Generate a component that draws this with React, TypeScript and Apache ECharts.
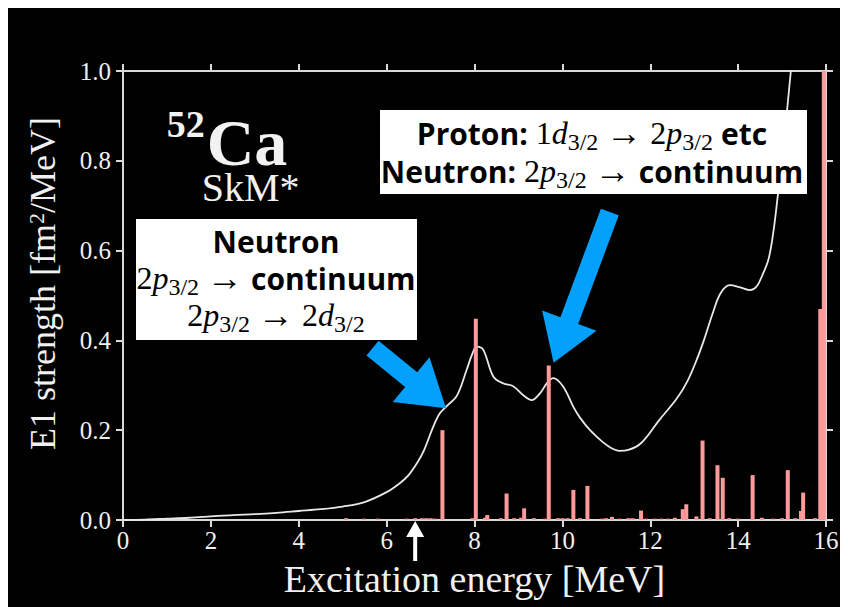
import React, { useEffect, useRef } from "react";
import * as echarts from "echarts";

// Continuous (smeared) E1 strength curve
const curveEnergy = [
  0, 0.5, 1, 1.5, 2, 2.5, 3, 3.5, 4, 4.5, 5, 5.5, 6, 6.3, 6.5, 6.7, 6.85, 7.05, 7.2, 7.35,
  7.6, 7.82, 7.95, 8.05, 8.2, 8.43, 8.66, 8.88, 9.11, 9.3, 9.49, 9.65, 9.79, 10.02, 10.25,
  10.4, 10.63, 10.9, 11.1, 11.3, 11.5, 11.8, 12.2, 12.6, 12.85, 13.05, 13.22, 13.42, 13.6,
  13.81, 14.05, 14.27, 14.42, 14.55, 14.69, 14.8, 14.9, 15.05, 15.2, 15.35,
];
const curveStrength = [
  0, 0.001, 0.003, 0.005, 0.008, 0.011, 0.013, 0.016, 0.02, 0.024, 0.03, 0.04, 0.062, 0.082,
  0.1, 0.128, 0.155, 0.205, 0.236, 0.252, 0.277, 0.334, 0.37, 0.386, 0.379, 0.319, 0.304,
  0.298, 0.278, 0.267, 0.282, 0.305, 0.316, 0.297, 0.252, 0.228, 0.2, 0.175, 0.161, 0.154,
  0.156, 0.172, 0.222, 0.27, 0.31, 0.355, 0.4, 0.46, 0.505, 0.523, 0.518, 0.512, 0.52, 0.545,
  0.58, 0.64, 0.72, 0.85, 1.0, 1.15,
];

// Discrete RPA transition strengths
const lineEnergy = [
  5.08, 5.48, 5.8, 6.46, 6.65, 6.8, 6.9, 7.0, 7.1, 7.27, 7.95, 8.03, 8.24, 8.29, 8.6, 8.73,
  8.9, 9.06, 9.13, 9.35, 9.6, 9.69, 9.9, 10.0, 10.12, 10.25, 10.4, 10.57, 10.9, 11.0, 11.13,
  11.3, 11.5, 11.6, 11.79, 11.9, 12.1, 12.25, 12.4, 12.56, 12.74, 12.82, 13.05, 13.19, 13.35,
  13.53, 13.65, 13.8, 14.0, 14.33, 14.54, 14.8, 15.0, 15.13, 15.3, 15.43, 15.48, 15.75, 15.87,
  15.95,
];
const lineStrength = [
  0.004, 0.003, 0.003, 0.003, 0.004, 0.004, 0.004, 0.004, 0.003, 0.2, 0.004, 0.448, 0.005,
  0.011, 0.004, 0.059, 0.004, 0.005, 0.026, 0.004, 0.003, 0.344, 0.004, 0.004, 0.004, 0.067,
  0.004, 0.076, 0.003, 0.004, 0.007, 0.003, 0.004, 0.004, 0.021, 0.003, 0.003, 0.003, 0.003,
  0.005, 0.024, 0.035, 0.008, 0.177, 0.004, 0.122, 0.094, 0.004, 0.003, 0.1, 0.005, 0.003,
  0.004, 0.111, 0.004, 0.02, 0.061, 0.004, 0.47, 1.0,
];

const thresholdEnergy = 6.65;

export default function App() {
  const ref = useRef<HTMLDivElement>(null);

  useEffect(() => {
    document.documentElement.style.overflow = "hidden";
    document.body.style.overflow = "hidden";
    const chart = echarts.init(ref.current!, null, { renderer: "svg" });
    const serif = "Liberation Serif, Times New Roman, serif";
    const sans = "Open Sans, Noto Sans, sans-serif";
    const axisColor = "#d9d9d9";
    const labelColor = "#f0f0f0";

    const axisLine = { show: true, onZero: false, lineStyle: { color: axisColor, width: 2 } };
    const axisTick = { show: true, length: 7, lineStyle: { color: axisColor, width: 2 } };

    chart.setOption({
      animation: false,
      backgroundColor: "#000",
      grid: { left: 115, right: 22, top: 63, bottom: 87, containLabel: false },
      xAxis: [
        {
          type: "value",
          min: 0,
          max: 16,
          interval: 2,
          position: "bottom",
          axisLine,
          axisTick,
          splitLine: { show: false },
          axisLabel: { color: labelColor, fontFamily: serif, fontSize: 25, margin: 8 },
          name: "Excitation energy [MeV]",
          nameLocation: "middle",
          nameGap: 40,
          nameTextStyle: { color: labelColor, fontFamily: serif, fontSize: 38 },
        },
        {
          type: "value",
          min: 0,
          max: 16,
          interval: 2,
          position: "top",
          axisLine,
          axisTick,
          splitLine: { show: false },
          axisLabel: { show: false },
        },
      ],
      yAxis: [
        {
          type: "value",
          min: 0,
          max: 1,
          interval: 0.2,
          position: "left",
          axisLine,
          axisTick,
          splitLine: { show: false },
          axisLabel: {
            color: labelColor,
            fontFamily: serif,
            fontSize: 25,
            margin: 12,
            formatter: (v: number) => v.toFixed(1),
          },
          name: "E1 strength [fm{sup|2}/MeV]",
          nameLocation: "middle",
          nameGap: 62,
          nameTextStyle: {
            color: labelColor,
            fontFamily: serif,
            fontSize: 36,
            padding: [0, 0, 0, 24],
            rich: {
              sup: {
                color: labelColor,
                fontFamily: serif,
                fontSize: 22,
                verticalAlign: "top",
                lineHeight: 22,
              },
            },
          },
        },
        {
          type: "value",
          min: 0,
          max: 1,
          interval: 0.2,
          position: "right",
          axisLine,
          axisTick,
          splitLine: { show: false },
          axisLabel: { show: false },
        },
      ],
      series: [
        {
          type: "line",
          data: curveEnergy.map((x, i) => [x, curveStrength[i]]),
          showSymbol: false,
          symbol: "none",
          smooth: 0.35,
          clip: true,
          lineStyle: { color: "#e8e8e8", width: 1.8 },
          z: 2,
        },
        {
          type: "bar",
          data: lineEnergy.map((x, i) => [x, lineStrength[i]]),
          barWidth: 4,
          clip: true,
          itemStyle: { color: "#ff9a9a" },
          z: 3,
        },
      ],
    });

    const toPx = (p: number[]) =>
      chart.convertToPixel({ xAxisIndex: 0, yAxisIndex: 0 }, p) as number[];

    const blue = "#03a1fc";
    const arrowPoly = (tailD: number[], tipD: number[]) => {
      const t = toPx(tailD);
      const p = toPx(tipD);
      const dx = p[0] - t[0];
      const dy = p[1] - t[1];
      const len = Math.hypot(dx, dy);
      const ux = dx / len;
      const uy = dy / len;
      const nx = -uy;
      const ny = ux;
      const sw = 19 / 2;
      const hw = 58 / 2;
      const hl = 45;
      const bx = p[0] - ux * hl;
      const by = p[1] - uy * hl;
      return {
        type: "polygon",
        z: 20,
        shape: {
          points: [
            [t[0] + nx * sw, t[1] + ny * sw],
            [bx + nx * sw, by + ny * sw],
            [bx + nx * hw, by + ny * hw],
            [p[0], p[1]],
            [bx - nx * hw, by - ny * hw],
            [bx - nx * sw, by - ny * sw],
            [t[0] - nx * sw, t[1] - ny * sw],
          ],
        },
        style: { fill: blue },
      };
    };

    const th = toPx([thresholdEnergy, 0]);
    const tipY = th[1] + 1;
    const whiteArrow = [
      {
        type: "polygon",
        z: 20,
        shape: {
          points: [
            [th[0], tipY],
            [th[0] + 9, tipY + 16],
            [th[0] - 9, tipY + 16],
          ],
        },
        style: { fill: "#ffffff" },
      },
      {
        type: "rect",
        z: 20,
        shape: { x: th[0] - 2, y: tipY + 14, width: 4, height: 26 },
        style: { fill: "#ffffff" },
      },
    ];

    const rich = {
      s: { fontFamily: sans, fontWeight: "bold", fontSize: 30, lineHeight: 32, fill: "#000", color: "#000" },
      n: { fontFamily: serif, fontSize: 32, lineHeight: 32, fill: "#000", color: "#000" },
      i: { fontFamily: serif, fontStyle: "italic", fontSize: 32, lineHeight: 32, fill: "#000", color: "#000" },
      a: { fontFamily: serif, fontSize: 36, lineHeight: 32, fill: "#000", color: "#000" },
      sub: {
        fontFamily: serif,
        fontSize: 24,
        lineHeight: 24,
        padding: [17, 0, 0, 0],
        fill: "#000",
        color: "#000",
      },
    };
    const boxText = (x: number, y: number, text: string) => ({
      type: "text",
      z: 16,
      x,
      y,
      style: {
        text,
        rich,
        fontFamily: serif,
        fontSize: 32,
        fill: "#000",
        align: "center",
        verticalAlign: "middle",
      },
    });

    chart.setOption({
      graphic: [
        {
          type: "text",
          z: 15,
          x: 158.7,
          y: 115.5,
          style: {
            text: "52",
            fontFamily: serif,
            fontWeight: "bold",
            fontSize: 38,
            fill: "#f2f2f2",
            align: "left",
            verticalAlign: "middle",
          },
        },
        {
          type: "text",
          z: 15,
          x: 198.7,
          y: 134,
          style: {
            text: "Ca",
            fontFamily: serif,
            fontWeight: "bold",
            fontSize: 66,
            lineHeight: 46,
            fill: "#f2f2f2",
            align: "left",
            verticalAlign: "middle",
          },
        },
        {
          type: "text",
          z: 15,
          x: 193.7,
          y: 179,
          style: {
            text: "SkM*",
            fontFamily: serif,
            fontSize: 40,
            lineHeight: 30,
            fill: "#f2f2f2",
            align: "left",
            verticalAlign: "middle",
          },
        },
        { type: "rect", z: 15, shape: { x: 372, y: 102, width: 427, height: 84 }, style: { fill: "#ffffff" } },
        { type: "rect", z: 15, shape: { x: 128, y: 211, width: 281, height: 121 }, style: { fill: "#ffffff" } },
        boxText(584, 125, "{s|Proton:} {n|1}{i|d}{sub|3/2} {a|→} {n|2}{i|p}{sub|3/2} {s|etc}"),
        boxText(584, 163, "{s|Neutron:} {n|2}{i|p}{sub|3/2} {a|→} {s|continuum}"),
        boxText(268, 233, "{s|Neutron}"),
        boxText(268, 270, "{n|2}{i|p}{sub|3/2} {a|→} {s|continuum}"),
        boxText(268, 307, "{n|2}{i|p}{sub|3/2} {a|→} {n|2}{i|d}{sub|3/2}"),
        arrowPoly([5.68, 0.383], [7.35, 0.249]),
        arrowPoly([11.08, 0.686], [9.8, 0.35]),
        ...whiteArrow,
      ],
    });

    return () => chart.dispose();
  }, []);

  return <div ref={ref} style={{ width: 840, height: 599, background: "#000" }} />;
}
